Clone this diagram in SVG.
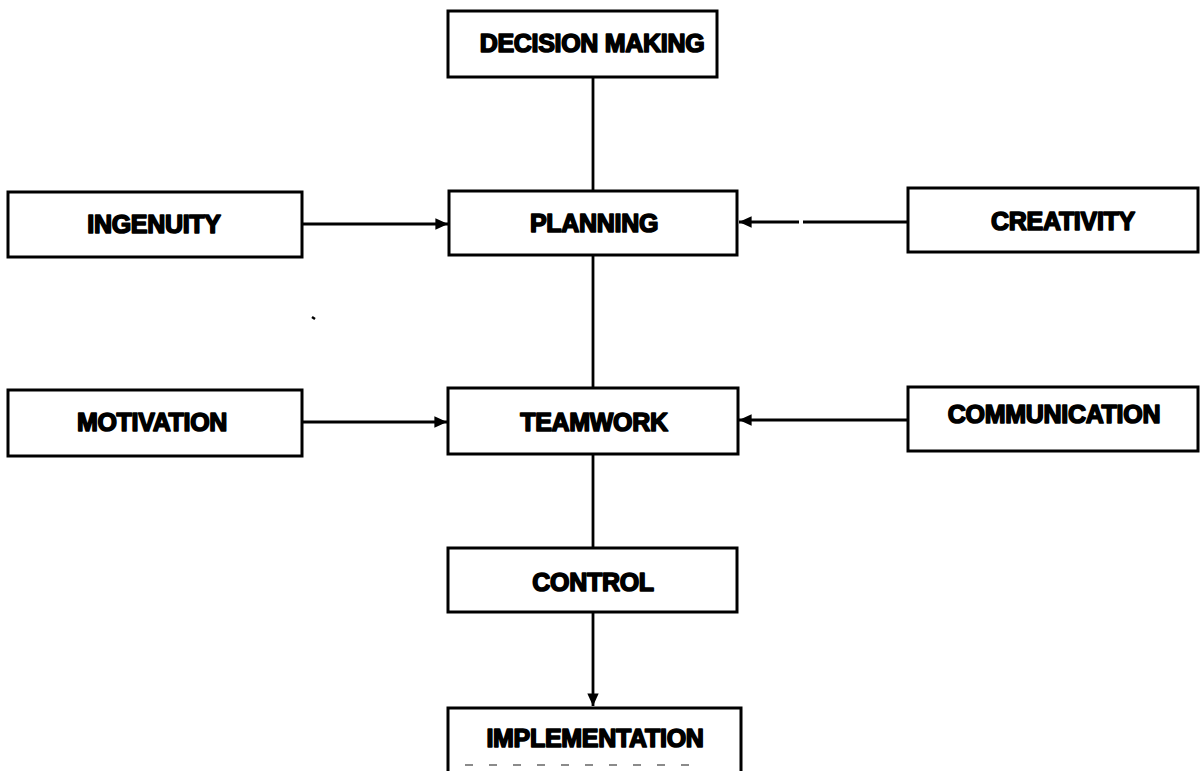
<svg xmlns="http://www.w3.org/2000/svg" width="1204" height="771" viewBox="0 0 1204 771">
  <defs>
    <marker id="arrow" viewBox="0 0 10 10" refX="10" refY="5" markerWidth="4.5" markerHeight="4.5" markerUnits="strokeWidth" orient="auto">
      <path d="M0,0.5 L10,5 L0,9.5 Z" fill="#000"/>
    </marker>
    <style>
      .box { fill: #fff; stroke: #000; stroke-width: 3; }
      .lbl { font-family: "Liberation Sans", Arial, sans-serif; font-weight: bold; font-size: 25px; fill: #000; stroke: #000; stroke-width: 1.6; stroke-linejoin: round; text-anchor: middle; dominant-baseline: central; letter-spacing: -0.3px; }
      .conn { stroke: #000; stroke-width: 2.8; fill: none; }
    </style>
  </defs>
  <rect width="1204" height="771" fill="#fff"/>

  <!-- connectors -->
  <g id="connectors">
    <line class="conn" x1="593" y1="77" x2="593" y2="191"/>
    <line class="conn" x1="593" y1="255" x2="593" y2="388"/>
    <line class="conn" x1="593" y1="454" x2="593" y2="548"/>
    <line class="conn" x1="593" y1="612" x2="593" y2="706" marker-end="url(#arrow)"/>
    <line class="conn" x1="302" y1="224" x2="448" y2="224" marker-end="url(#arrow)"/>
    <line class="conn" x1="302" y1="422" x2="447" y2="422" marker-end="url(#arrow)"/>
    <path class="conn" d="M908,222 H803 M799,222 H739" marker-end="url(#arrow)"/>
    <line class="conn" x1="908" y1="420" x2="739" y2="420" marker-end="url(#arrow)"/>
    <!-- small speck -->
    <line x1="312" y1="317" x2="315" y2="319" stroke="#000" stroke-width="2.5"/>
  </g>

  <g id="decision-making">
    <rect class="box" x="448" y="11" width="269" height="66"/>
    <text class="lbl" x="592" y="43">DECISION MAKING</text>
  </g>
  <g id="planning">
    <rect class="box" x="449" y="191" width="288" height="64"/>
    <text class="lbl" x="594" y="223">PLANNING</text>
  </g>
  <g id="ingenuity">
    <rect class="box" x="8" y="192" width="294" height="65"/>
    <text class="lbl" x="154" y="224">INGENUITY</text>
  </g>
  <g id="creativity">
    <rect class="box" x="908" y="188" width="290" height="64"/>
    <text class="lbl" x="1063" y="221">CREATIVITY</text>
  </g>
  <g id="motivation">
    <rect class="box" x="8" y="390" width="294" height="66"/>
    <text class="lbl" x="152" y="422">MOTIVATION</text>
  </g>
  <g id="teamwork">
    <rect class="box" x="448" y="388" width="290" height="66"/>
    <text class="lbl" x="594" y="422">TEAMWORK</text>
  </g>
  <g id="communication">
    <rect class="box" x="908" y="387" width="290" height="64"/>
    <text class="lbl" x="1054" y="414">COMMUNICATION</text>
  </g>
  <g id="control">
    <rect class="box" x="448" y="548" width="289" height="64"/>
    <text class="lbl" x="593" y="582">CONTROL</text>
  </g>
  <g id="implementation">
    <path d="M448,771 V708 H741 V771" fill="#fff" stroke="#000" stroke-width="3"/>
    <line x1="465" y1="765" x2="705" y2="765" stroke="#000" stroke-width="1.5" stroke-dasharray="8 16" opacity="0.6"/>
    <text class="lbl" x="595" y="738">IMPLEMENTATION</text>
  </g>
</svg>
